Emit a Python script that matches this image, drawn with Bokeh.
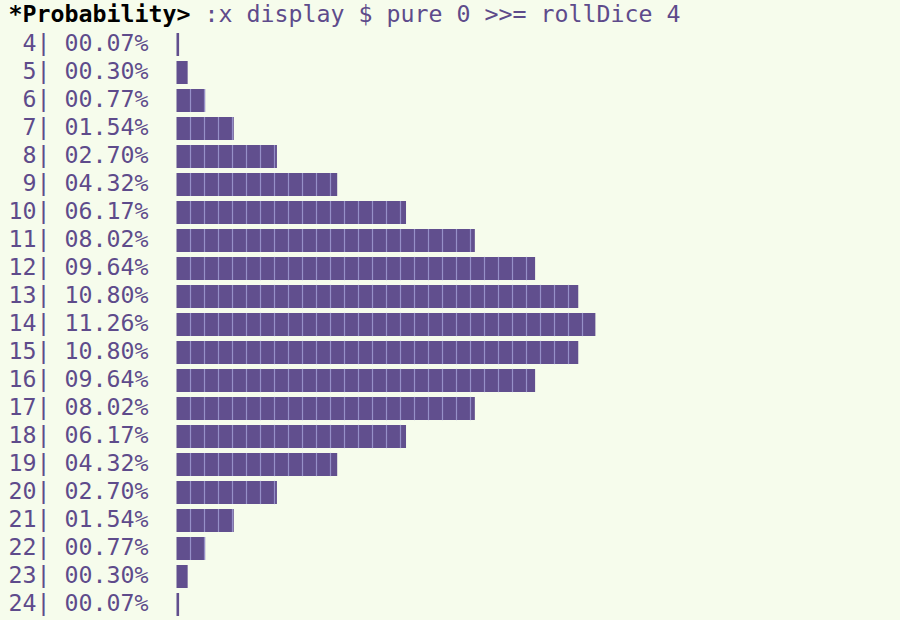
from bokeh.plotting import figure
from bokeh.models import Range1d, ColumnDataSource
from bokeh.core.properties import value
from bokeh.embed import file_html
from bokeh.resources import INLINE

# ---- data ----
sums = [4, 5, 6, 7, 8, 9, 10, 11, 12, 13, 14, 15, 16, 17, 18, 19, 20, 21, 22, 23, 24]
probs = [0.07, 0.30, 0.77, 1.54, 2.70, 4.32, 6.17, 8.02, 9.64, 10.80, 11.26,
         10.80, 9.64, 8.02, 6.17, 4.32, 2.70, 1.54, 0.77, 0.30, 0.07]
prompt = "*Probability>"
command = ":x display $ pure 0 >>= rollDice 4"

# ---- style / layout ----
BG = "#f6fcec"
PURPLE = "#5e4b8b"
BAR = "#614f8e"
SEP = "#9690c8"
FONT = "DejaVu Sans Mono"
FS = "23.25px"
W, H = 900, 620
PX_PER_PCT = 37.2
BAR_X0 = 176.0       # screen x of value 0
TEXT_X0 = 8.0        # screen x of first text column
ROW_Y0 = 44.0        # screen y of first row
ROW_H = 28.0
CHAR_W = 14.0
BLOCK = CHAR_W / PX_PER_PCT   # one block glyph in data units
BAR_H = 0.83
TEXT_DY = -2

x0 = -BAR_X0 / PX_PER_PCT
x1 = (W - BAR_X0) / PX_PER_PCT
first = sums[0]
y_top = first - ROW_Y0 / ROW_H
y_bot = first + (H - ROW_Y0) / ROW_H

p = figure(width=W, height=H, output_backend="svg", toolbar_location=None,
           x_range=Range1d(x0, x1), y_range=Range1d(y_bot, y_top),
           min_border=0, background_fill_color=BG, border_fill_color=BG)
p.axis.visible = False
p.grid.visible = False
p.outline_line_color = None

# bars and block separators derived from the values
p.hbar(y=sums, left=0, right=probs, height=BAR_H, fill_color=BAR, line_color=None)
sx, sy0, sy1 = [], [], []
for s, v in zip(sums, probs):
    k = 1
    while k * BLOCK < v - 1e-9:
        sx.append(k * BLOCK)
        sy0.append(s - BAR_H / 2)
        sy1.append(s + BAR_H / 2)
        k += 1
p.segment(x0=sx, y0=sy0, x1=sx, y1=sy1, line_color=SEP, line_width=1.2)

# row labels: number (right aligned) and "| pp.pp%"
tx = x0 + TEXT_X0 / PX_PER_PCT
num_x = tx + 2 * CHAR_W / PX_PER_PCT
src = ColumnDataSource(dict(
    xn=[num_x] * len(sums), xr=[num_x] * len(sums), y=sums,
    n=[str(s) for s in sums],
    r=[f"| {v:05.2f}%" for v in probs]))
p.text(x="xn", y="y", text="n", source=src, text_font=value(FONT),
       text_font_size=FS, text_color=PURPLE, text_align="right",
       text_baseline="middle", y_offset=TEXT_DY)
p.text(x="xr", y="y", text="r", source=src, text_font=value(FONT),
       text_font_size=FS, text_color=PURPLE, text_align="left",
       text_baseline="middle", y_offset=TEXT_DY)

# prompt line
ty = first - 1
p.text(x=[tx], y=[ty], text=[prompt], text_font=value(FONT), text_font_size=FS,
       text_font_style="bold", text_color="#000000", text_align="left",
       text_baseline="middle", y_offset=TEXT_DY - 1)
p.text(x=[tx], y=[ty], text=[command], x_offset=(len(prompt) + 1) * CHAR_W,
       text_font=value(FONT), text_font_size=FS, text_color=PURPLE,
       text_align="left", text_baseline="middle", y_offset=TEXT_DY - 1)

html = file_html(p, INLINE)
html = html.replace("<head>", "<head><style>body{background:%s;}</style>" % BG, 1)
open("out.html", "w").write(html)
